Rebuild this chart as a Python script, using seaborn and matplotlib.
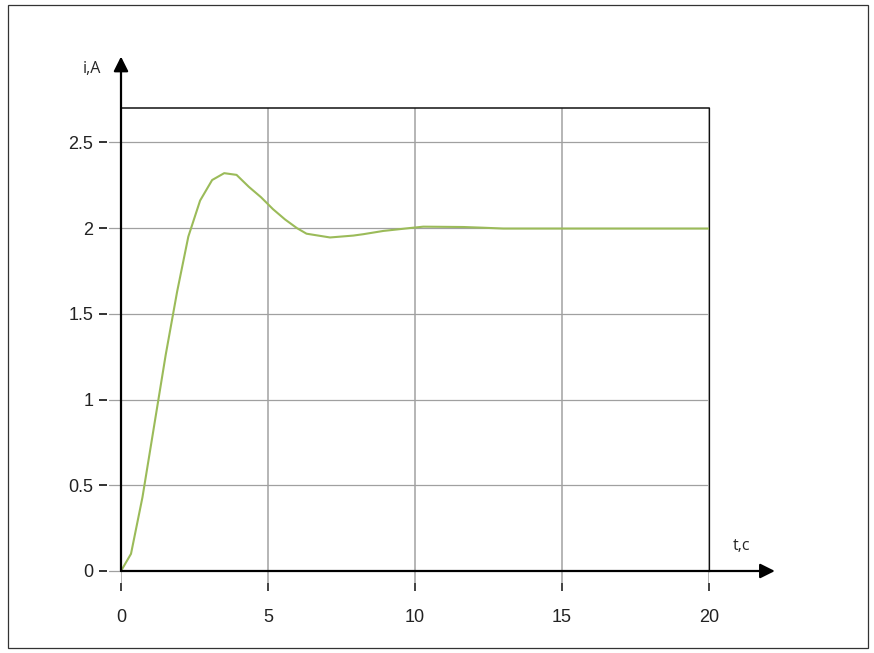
import matplotlib
matplotlib.use("Agg")
import matplotlib.pyplot as plt
import seaborn as sns
import pandas as pd
from matplotlib.patches import Rectangle

# Transient current i(t)
t_values = [0, 0.34, 0.73, 1.13, 1.52, 1.91, 2.29, 2.69, 3.10, 3.51, 3.93,
            4.35, 4.76, 5.17, 5.58, 5.98, 6.31, 7.11, 7.90, 8.24, 8.92,
            9.83, 10.28, 11.64, 12.30, 13.00, 20.0]
i_values = [0, 0.10, 0.43, 0.85, 1.26, 1.63, 1.95, 2.16, 2.28, 2.32, 2.31,
            2.24, 2.18, 2.11, 2.05, 2.00, 1.967, 1.945, 1.956, 1.964, 1.983,
            2.000, 2.008, 2.006, 2.002, 1.997, 1.997]
x_ticks = [0, 5, 10, 15, 20]
y_ticks = [0, 0.5, 1, 1.5, 2, 2.5]
y_tick_labels = ["0", "0.5", "1", "1.5", "2", "2.5"]
x_label = "t,c"
y_label = "i,A"

df = pd.DataFrame({"t": t_values, "i": i_values})

sns.set_style("white")
plt.rcParams["font.family"] = ["Liberation Sans", "DejaVu Sans"]

W, H = 874, 653
fig = plt.figure(figsize=(W / 100, H / 100), dpi=100)
# axes box in pixels: left 121, right 709, top 108, bottom 583
ax = fig.add_axes([121 / W, (H - 583) / H, 588 / W, 475 / H])

ax.set_xlim(0, 20)
ax.set_ylim(-0.07, 2.7)

# grid (horizontal lines reach left into the gap up to the tick marks)
for x in x_ticks:
    ax.axvline(x, color="#b0b0b0", lw=1.3, zorder=0)
for y in y_ticks[1:]:
    ax.axhline(y, xmin=-0.021, xmax=0.997, color="#a0a0a0", lw=0.9,
               zorder=0, clip_on=False)
ax.axhline(0, xmin=-0.021, xmax=0, color="#a0a0a0", lw=0.9,
           zorder=0, clip_on=False)

sns.lineplot(data=df, x="t", y="i", ax=ax, color="#9BBB59", lw=1.5,
             zorder=3, estimator=None, sort=False)

# frame: top and right thin black, left/bottom replaced by arrows
for side in ["left", "bottom"]:
    ax.spines[side].set_visible(False)
ax.spines["left"].set_position(("outward", 10))
ax.spines["top"].set_color("#111111")
ax.spines["top"].set_linewidth(1.1)
ax.spines["right"].set_color("#111111")
ax.spines["right"].set_linewidth(0.9)
ax.spines["right"].set_bounds(0, 2.7)

# arrow axes
arrow = dict(arrowstyle="-|>", color="black", lw=1.6,
             mutation_scale=22, shrinkA=0, shrinkB=0)
ax.annotate("", xy=(1.112, 0), xytext=(0, 0),
            xycoords=("axes fraction", "data"), textcoords="data",
            arrowprops=arrow, annotation_clip=False, zorder=4)
ax.annotate("", xy=(0, 3.0), xytext=(0, 0),
            xycoords="data", textcoords="data",
            arrowprops=arrow, annotation_clip=False, zorder=4)

ax.text(21.1, 0.1, x_label, fontsize=11.5, family=["Open Sans", "DejaVu Sans"],
        ha="center", va="bottom", clip_on=False)
ax.text(-1.0, 2.93, y_label, fontsize=11.5, family=["Open Sans", "DejaVu Sans"],
        ha="center", va="center", clip_on=False)

ax.set_xticks(x_ticks)
ax.set_xticklabels([str(x) for x in x_ticks])
ax.set_yticks(y_ticks)
ax.set_yticklabels(y_tick_labels)
ax.tick_params(axis="x", direction="out", length=6, width=1.2, color="#222222",
               pad=13, labelsize=13, labelcolor="#222222", bottom=True)
ax.tick_params(axis="y", direction="out", length=5.5, width=1.3, color="#222222",
               pad=4.5, labelsize=13, labelcolor="#222222", left=True)
ax.set_xlabel("")
ax.set_ylabel("")

# outer border around the picture
fig.patches.append(Rectangle((8 / W, (H - 648) / H), 860 / W, 643 / H,
                             transform=fig.transFigure, fill=False,
                             edgecolor="#333333", lw=0.9))

fig.savefig("out.png", dpi=100)
